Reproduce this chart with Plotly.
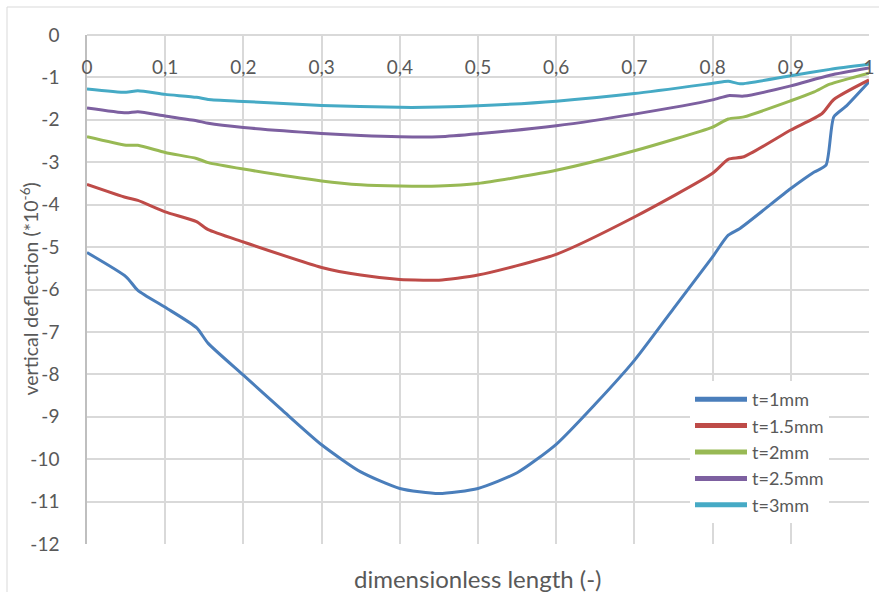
import plotly.graph_objects as go

# ---- data ----
x_t1 = [0, 0.05, 0.065, 0.1, 0.14, 0.155, 0.2, 0.25, 0.3, 0.35, 0.4, 0.45, 0.5, 0.55, 0.6, 0.65, 0.7, 0.75, 0.8, 0.82, 0.835, 0.9, 0.93, 0.945, 0.955, 0.97, 1.0]
y_t1 = [-5.13, -5.70, -6.02, -6.42, -6.90, -7.27, -8.02, -8.85, -9.66, -10.30, -10.69, -10.81, -10.69, -10.32, -9.65, -8.70, -7.67, -6.45, -5.23, -4.72, -4.56, -3.62, -3.23, -3.07, -1.93, -1.69, -1.10]

x_t15 = [0, 0.05, 0.065, 0.1, 0.14, 0.155, 0.2, 0.3, 0.35, 0.4, 0.43, 0.45, 0.5, 0.6, 0.7, 0.8, 0.82, 0.84, 0.9, 0.94, 0.955, 1.0]
y_t15 = [-3.52, -3.83, -3.90, -4.17, -4.40, -4.59, -4.88, -5.48, -5.66, -5.765, -5.78, -5.78, -5.66, -5.17, -4.29, -3.26, -2.93, -2.87, -2.24, -1.85, -1.52, -1.06]

x_t2 = [0, 0.05, 0.065, 0.1, 0.14, 0.155, 0.2, 0.3, 0.35, 0.4, 0.45, 0.5, 0.6, 0.7, 0.8, 0.82, 0.84, 0.9, 0.93, 0.95, 1.0]
y_t2 = [-2.40, -2.60, -2.60, -2.77, -2.91, -3.01, -3.16, -3.44, -3.53, -3.56, -3.56, -3.50, -3.19, -2.73, -2.17, -1.98, -1.93, -1.55, -1.34, -1.16, -0.90]

x_t25 = [0, 0.05, 0.065, 0.1, 0.14, 0.155, 0.2, 0.3, 0.35, 0.4, 0.45, 0.5, 0.6, 0.7, 0.8, 0.82, 0.84, 0.9, 0.95, 1.0]
y_t25 = [-1.72, -1.835, -1.81, -1.91, -2.02, -2.08, -2.18, -2.32, -2.37, -2.40, -2.40, -2.33, -2.14, -1.865, -1.53, -1.43, -1.44, -1.20, -0.95, -0.78]

x_t3 = [0, 0.05, 0.065, 0.1, 0.14, 0.155, 0.2, 0.3, 0.4, 0.45, 0.5, 0.6, 0.7, 0.8, 0.82, 0.835, 0.9, 0.95, 1.0]
y_t3 = [-1.27, -1.35, -1.315, -1.40, -1.47, -1.52, -1.566, -1.66, -1.705, -1.70, -1.67, -1.56, -1.38, -1.14, -1.09, -1.15, -0.96, -0.81, -0.69]

series_names = ["t=1mm", "t=1.5mm", "t=2mm", "t=2.5mm", "t=3mm"]
colors = ["#4A7EBB", "#BE4B48", "#98B954", "#7D60A0", "#46AAC5"]

x_tickvals = [0, 0.1, 0.2, 0.3, 0.4, 0.5, 0.6, 0.7, 0.8, 0.9, 1]
x_ticktext = ["0", "0,1", "0,2", "0,3", "0,4", "0,5", "0,6", "0,7", "0,8", "0,9", "1"]
y_tickvals = [0, -1, -2, -3, -4, -5, -6, -7, -8, -9, -10, -11, -12]
y_ticktext = ["0", "-1", "-2", "-3", "-4", "-5", "-6", "-7", "-8", "-9", "-10", "-11", "-12"]

x_title = "dimensionless length (-)"
y_title = "vertical deflection (*10<sup>-6</sup>)"

FONT = "Lato"
TXT = "#595959"

fig = go.Figure()
for xs, ys, name, c in zip([x_t1, x_t15, x_t2, x_t25, x_t3],
                           [y_t1, y_t15, y_t2, y_t25, y_t3],
                           series_names, colors):
    fig.add_trace(go.Scatter(x=xs, y=ys, name=name, mode="lines",
                             line=dict(color=c, width=3, shape="spline", smoothing=0.6)))

W, H = 879, 592
L, R, T, B = 87, 10, 35, 48
pw, ph = W - L - R, H - T - B

fig.update_layout(
    width=W, height=H,
    margin=dict(l=L, r=R, t=T, b=B, pad=0),
    paper_bgcolor="white", plot_bgcolor="white",
    font=dict(family=FONT, color=TXT, size=19),
    showlegend=True,
    legend=dict(x=(690 - L) / pw, y=1 - (381 - T) / ph, xanchor="left", yanchor="top",
                bgcolor="white", font=dict(size=18, color=TXT),
                tracegroupgap=0, itemwidth=52, itemsizing="constant"),
    xaxis=dict(range=[0, 1], side="bottom", anchor="free", position=1,
               tickvals=x_tickvals, ticktext=x_ticktext,
               ticks="", ticklabelstandoff=15, automargin=False,
               showgrid=True, gridcolor="#D9D9D9", gridwidth=1.5,
               showline=True, linecolor="#D9D9D9", linewidth=1.5,
               zeroline=False, tickfont=dict(size=19, color=TXT)),
    yaxis=dict(range=[-12, 0], tickvals=y_tickvals, ticktext=y_ticktext,
               ticks="", ticklabelstandoff=22, automargin=False,
               showgrid=True, gridcolor="#D9D9D9", gridwidth=1.5,
               showline=True, linecolor="#BFBFBF", linewidth=1.5,
               zeroline=False, tickfont=dict(size=19, color=TXT)),
    annotations=[
        dict(text=x_title, xref="paper", yref="paper",
             x=0.5, y=-(578 - (T + ph)) / ph, xanchor="center", yanchor="middle",
             showarrow=False, font=dict(size=24, color=TXT)),
        dict(text=y_title, xref="paper", yref="paper", textangle=-90,
             x=(29 - L) / pw, y=0.5, xanchor="center", yanchor="middle",
             showarrow=False, font=dict(size=19.5, color=TXT)),
    ],
    shapes=[dict(type="rect", xref="paper", yref="paper",
                 x0=(7 - L) / pw, x1=(W + 20 - L) / pw,
                 y0=-(H + 20 - T - ph) / ph, y1=1 + (T - 7) / ph,
                 line=dict(color="#D9D9D9", width=1), layer="below")],
)

fig.write_html("out.html")
